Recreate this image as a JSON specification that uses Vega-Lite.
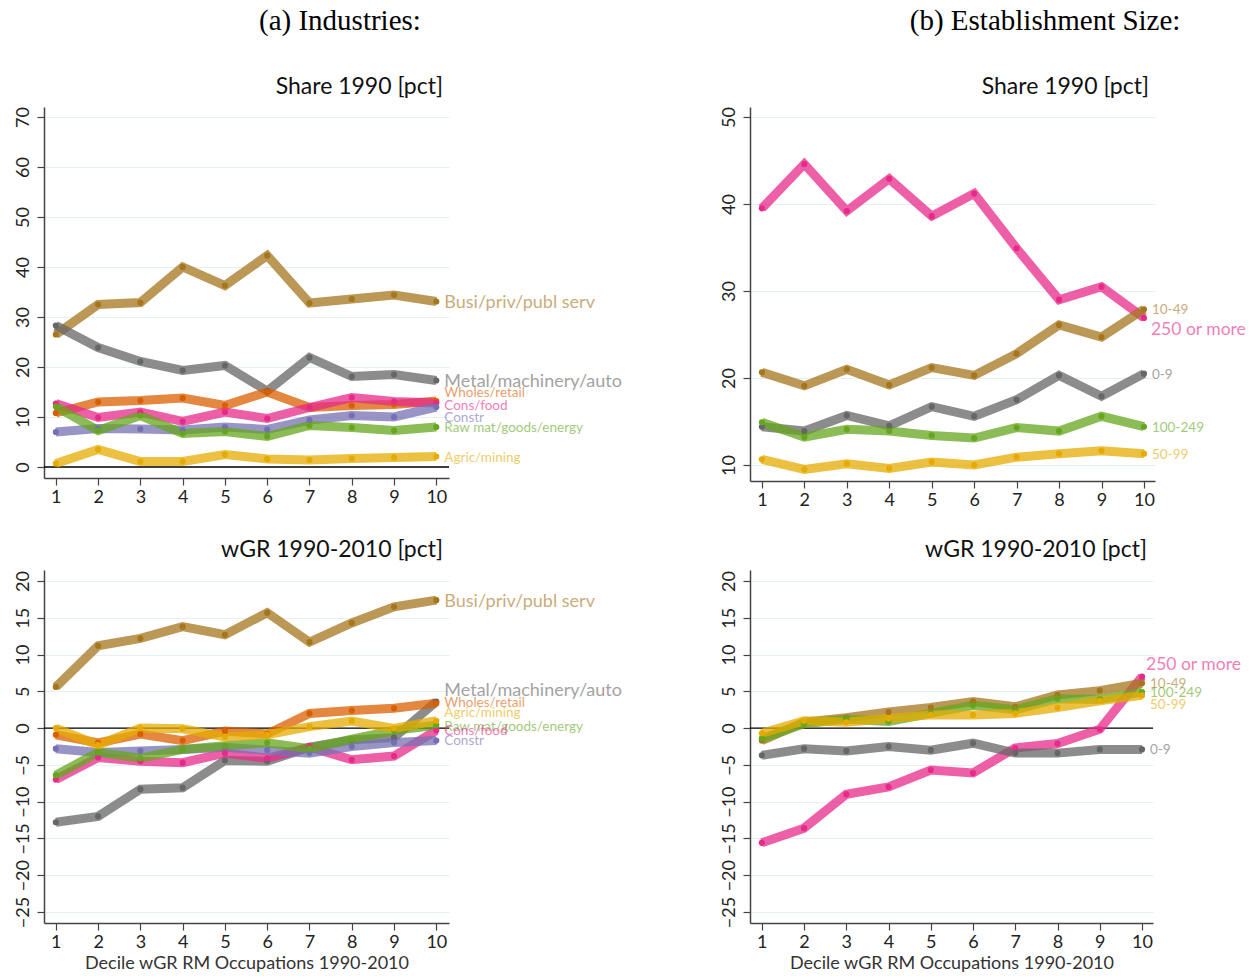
{
"$schema":"https://vega.github.io/schema/vega-lite/v6.json",
"background":"white",
"padding":{"left":14,"top":6,"right":0,"bottom":0},
"datasets":{
"a1":[
{"s":"Busi/priv/publ serv","d":1,"v":26.5},{"s":"Busi/priv/publ serv","d":2,"v":32.5},{"s":"Busi/priv/publ serv","d":3,"v":32.9},{"s":"Busi/priv/publ serv","d":4,"v":40.0},{"s":"Busi/priv/publ serv","d":5,"v":36.3},{"s":"Busi/priv/publ serv","d":6,"v":42.3},{"s":"Busi/priv/publ serv","d":7,"v":32.8},{"s":"Busi/priv/publ serv","d":8,"v":33.6},{"s":"Busi/priv/publ serv","d":9,"v":34.4},{"s":"Busi/priv/publ serv","d":10,"v":33.1},
{"s":"Metal/machinery/auto","d":1,"v":28.3},{"s":"Metal/machinery/auto","d":2,"v":23.9},{"s":"Metal/machinery/auto","d":3,"v":21.1},{"s":"Metal/machinery/auto","d":4,"v":19.3},{"s":"Metal/machinery/auto","d":5,"v":20.3},{"s":"Metal/machinery/auto","d":6,"v":15.2},{"s":"Metal/machinery/auto","d":7,"v":21.9},{"s":"Metal/machinery/auto","d":8,"v":18.1},{"s":"Metal/machinery/auto","d":9,"v":18.5},{"s":"Metal/machinery/auto","d":10,"v":17.3},
{"s":"Wholes/retail","d":1,"v":10.8},{"s":"Wholes/retail","d":2,"v":13.0},{"s":"Wholes/retail","d":3,"v":13.3},{"s":"Wholes/retail","d":4,"v":13.8},{"s":"Wholes/retail","d":5,"v":12.3},{"s":"Wholes/retail","d":6,"v":15.0},{"s":"Wholes/retail","d":7,"v":11.9},{"s":"Wholes/retail","d":8,"v":12.3},{"s":"Wholes/retail","d":9,"v":12.5},{"s":"Wholes/retail","d":10,"v":13.2},
{"s":"Cons/food","d":1,"v":12.7},{"s":"Cons/food","d":2,"v":9.9},{"s":"Cons/food","d":3,"v":11.0},{"s":"Cons/food","d":4,"v":9.1},{"s":"Cons/food","d":5,"v":11.0},{"s":"Cons/food","d":6,"v":9.7},{"s":"Cons/food","d":7,"v":11.9},{"s":"Cons/food","d":8,"v":13.9},{"s":"Cons/food","d":9,"v":13.1},{"s":"Cons/food","d":10,"v":12.8},
{"s":"Constr","d":1,"v":7.0},{"s":"Constr","d":2,"v":7.7},{"s":"Constr","d":3,"v":7.6},{"s":"Constr","d":4,"v":7.4},{"s":"Constr","d":5,"v":8.0},{"s":"Constr","d":6,"v":7.5},{"s":"Constr","d":7,"v":9.4},{"s":"Constr","d":8,"v":10.3},{"s":"Constr","d":9,"v":10.0},{"s":"Constr","d":10,"v":12.0},
{"s":"Raw mat/goods/energy","d":1,"v":12.1},{"s":"Raw mat/goods/energy","d":2,"v":7.3},{"s":"Raw mat/goods/energy","d":3,"v":10.3},{"s":"Raw mat/goods/energy","d":4,"v":6.7},{"s":"Raw mat/goods/energy","d":5,"v":7.1},{"s":"Raw mat/goods/energy","d":6,"v":6.1},{"s":"Raw mat/goods/energy","d":7,"v":8.3},{"s":"Raw mat/goods/energy","d":8,"v":7.9},{"s":"Raw mat/goods/energy","d":9,"v":7.3},{"s":"Raw mat/goods/energy","d":10,"v":8.0},
{"s":"Agric/mining","d":1,"v":0.7},{"s":"Agric/mining","d":2,"v":3.5},{"s":"Agric/mining","d":3,"v":1.1},{"s":"Agric/mining","d":4,"v":1.1},{"s":"Agric/mining","d":5,"v":2.5},{"s":"Agric/mining","d":6,"v":1.6},{"s":"Agric/mining","d":7,"v":1.4},{"s":"Agric/mining","d":8,"v":1.7},{"s":"Agric/mining","d":9,"v":1.9},{"s":"Agric/mining","d":10,"v":2.1}
],
"a2":[
{"s":"Busi/priv/publ serv","d":1,"v":5.6},{"s":"Busi/priv/publ serv","d":2,"v":11.2},{"s":"Busi/priv/publ serv","d":3,"v":12.2},{"s":"Busi/priv/publ serv","d":4,"v":13.8},{"s":"Busi/priv/publ serv","d":5,"v":12.7},{"s":"Busi/priv/publ serv","d":6,"v":15.7},{"s":"Busi/priv/publ serv","d":7,"v":11.7},{"s":"Busi/priv/publ serv","d":8,"v":14.3},{"s":"Busi/priv/publ serv","d":9,"v":16.5},{"s":"Busi/priv/publ serv","d":10,"v":17.4},
{"s":"Metal/machinery/auto","d":1,"v":-12.8},{"s":"Metal/machinery/auto","d":2,"v":-12.0},{"s":"Metal/machinery/auto","d":3,"v":-8.3},{"s":"Metal/machinery/auto","d":4,"v":-8.1},{"s":"Metal/machinery/auto","d":5,"v":-4.4},{"s":"Metal/machinery/auto","d":6,"v":-4.5},{"s":"Metal/machinery/auto","d":7,"v":-2.6},{"s":"Metal/machinery/auto","d":8,"v":-1.6},{"s":"Metal/machinery/auto","d":9,"v":-1.3},{"s":"Metal/machinery/auto","d":10,"v":3.6},
{"s":"Wholes/retail","d":1,"v":-0.9},{"s":"Wholes/retail","d":2,"v":-2.0},{"s":"Wholes/retail","d":3,"v":-0.8},{"s":"Wholes/retail","d":4,"v":-1.7},{"s":"Wholes/retail","d":5,"v":-0.4},{"s":"Wholes/retail","d":6,"v":-0.8},{"s":"Wholes/retail","d":7,"v":2.0},{"s":"Wholes/retail","d":8,"v":2.4},{"s":"Wholes/retail","d":9,"v":2.7},{"s":"Wholes/retail","d":10,"v":3.4},
{"s":"Cons/food","d":1,"v":-7.0},{"s":"Cons/food","d":2,"v":-4.0},{"s":"Cons/food","d":3,"v":-4.5},{"s":"Cons/food","d":4,"v":-4.7},{"s":"Cons/food","d":5,"v":-3.4},{"s":"Cons/food","d":6,"v":-4.1},{"s":"Cons/food","d":7,"v":-2.6},{"s":"Cons/food","d":8,"v":-4.3},{"s":"Cons/food","d":9,"v":-3.8},{"s":"Cons/food","d":10,"v":-0.3},
{"s":"Constr","d":1,"v":-2.8},{"s":"Constr","d":2,"v":-3.3},{"s":"Constr","d":3,"v":-3.1},{"s":"Constr","d":4,"v":-2.9},{"s":"Constr","d":5,"v":-2.6},{"s":"Constr","d":6,"v":-3.0},{"s":"Constr","d":7,"v":-3.4},{"s":"Constr","d":8,"v":-2.5},{"s":"Constr","d":9,"v":-1.95},{"s":"Constr","d":10,"v":-1.7},
{"s":"Raw mat/goods/energy","d":1,"v":-6.4},{"s":"Raw mat/goods/energy","d":2,"v":-3.3},{"s":"Raw mat/goods/energy","d":3,"v":-4.1},{"s":"Raw mat/goods/energy","d":4,"v":-2.9},{"s":"Raw mat/goods/energy","d":5,"v":-2.4},{"s":"Raw mat/goods/energy","d":6,"v":-2.0},{"s":"Raw mat/goods/energy","d":7,"v":-2.8},{"s":"Raw mat/goods/energy","d":8,"v":-1.5},{"s":"Raw mat/goods/energy","d":9,"v":-0.3},{"s":"Raw mat/goods/energy","d":10,"v":0.4},
{"s":"Agric/mining","d":1,"v":0.0},{"s":"Agric/mining","d":2,"v":-2.3},{"s":"Agric/mining","d":3,"v":0.0},{"s":"Agric/mining","d":4,"v":-0.1},{"s":"Agric/mining","d":5,"v":-1.2},{"s":"Agric/mining","d":6,"v":-0.9},{"s":"Agric/mining","d":7,"v":0.2},{"s":"Agric/mining","d":8,"v":0.95},{"s":"Agric/mining","d":9,"v":-0.05},{"s":"Agric/mining","d":10,"v":1.0}
],
"b1":[
{"s":"250 or more","d":1,"v":39.5},{"s":"250 or more","d":2,"v":44.6},{"s":"250 or more","d":3,"v":39.2},{"s":"250 or more","d":4,"v":42.9},{"s":"250 or more","d":5,"v":38.6},{"s":"250 or more","d":6,"v":41.2},{"s":"250 or more","d":7,"v":34.9},{"s":"250 or more","d":8,"v":29.0},{"s":"250 or more","d":9,"v":30.5},{"s":"250 or more","d":10,"v":26.9},
{"s":"10-49","d":1,"v":20.65},{"s":"10-49","d":2,"v":19.1},{"s":"10-49","d":3,"v":21.0},{"s":"10-49","d":4,"v":19.2},{"s":"10-49","d":5,"v":21.2},{"s":"10-49","d":6,"v":20.3},{"s":"10-49","d":7,"v":22.8},{"s":"10-49","d":8,"v":26.1},{"s":"10-49","d":9,"v":24.7},{"s":"10-49","d":10,"v":27.9},
{"s":"0-9","d":1,"v":14.4},{"s":"0-9","d":2,"v":13.9},{"s":"0-9","d":3,"v":15.7},{"s":"0-9","d":4,"v":14.5},{"s":"0-9","d":5,"v":16.7},{"s":"0-9","d":6,"v":15.6},{"s":"0-9","d":7,"v":17.5},{"s":"0-9","d":8,"v":20.3},{"s":"0-9","d":9,"v":17.9},{"s":"0-9","d":10,"v":20.5},
{"s":"100-249","d":1,"v":14.9},{"s":"100-249","d":2,"v":13.2},{"s":"100-249","d":3,"v":14.1},{"s":"100-249","d":4,"v":13.9},{"s":"100-249","d":5,"v":13.4},{"s":"100-249","d":6,"v":13.1},{"s":"100-249","d":7,"v":14.3},{"s":"100-249","d":8,"v":13.9},{"s":"100-249","d":9,"v":15.6},{"s":"100-249","d":10,"v":14.4},
{"s":"50-99","d":1,"v":10.65},{"s":"50-99","d":2,"v":9.5},{"s":"50-99","d":3,"v":10.15},{"s":"50-99","d":4,"v":9.6},{"s":"50-99","d":5,"v":10.35},{"s":"50-99","d":6,"v":10.0},{"s":"50-99","d":7,"v":10.9},{"s":"50-99","d":8,"v":11.3},{"s":"50-99","d":9,"v":11.65},{"s":"50-99","d":10,"v":11.3}
],
"b2":[
{"s":"250 or more","d":1,"v":-15.6},{"s":"250 or more","d":2,"v":-13.6},{"s":"250 or more","d":3,"v":-9.0},{"s":"250 or more","d":4,"v":-8.0},{"s":"250 or more","d":5,"v":-5.7},{"s":"250 or more","d":6,"v":-6.1},{"s":"250 or more","d":7,"v":-2.7},{"s":"250 or more","d":8,"v":-2.1},{"s":"250 or more","d":9,"v":-0.15},{"s":"250 or more","d":10,"v":7.0},
{"s":"10-49","d":1,"v":-1.7},{"s":"10-49","d":2,"v":0.8},{"s":"10-49","d":3,"v":1.4},{"s":"10-49","d":4,"v":2.2},{"s":"10-49","d":5,"v":2.8},{"s":"10-49","d":6,"v":3.6},{"s":"10-49","d":7,"v":2.9},{"s":"10-49","d":8,"v":4.5},{"s":"10-49","d":9,"v":5.1},{"s":"10-49","d":10,"v":6.1},
{"s":"0-9","d":1,"v":-3.7},{"s":"0-9","d":2,"v":-2.8},{"s":"0-9","d":3,"v":-3.1},{"s":"0-9","d":4,"v":-2.5},{"s":"0-9","d":5,"v":-3.0},{"s":"0-9","d":6,"v":-2.05},{"s":"0-9","d":7,"v":-3.4},{"s":"0-9","d":8,"v":-3.4},{"s":"0-9","d":9,"v":-2.9},{"s":"0-9","d":10,"v":-2.9},
{"s":"100-249","d":1,"v":-1.4},{"s":"100-249","d":2,"v":0.6},{"s":"100-249","d":3,"v":1.2},{"s":"100-249","d":4,"v":0.9},{"s":"100-249","d":5,"v":2.0},{"s":"100-249","d":6,"v":3.1},{"s":"100-249","d":7,"v":2.5},{"s":"100-249","d":8,"v":4.0},{"s":"100-249","d":9,"v":3.9},{"s":"100-249","d":10,"v":4.9},
{"s":"50-99","d":1,"v":-0.7},{"s":"50-99","d":2,"v":1.0},{"s":"50-99","d":3,"v":0.8},{"s":"50-99","d":4,"v":1.3},{"s":"50-99","d":5,"v":1.8},{"s":"50-99","d":6,"v":1.8},{"s":"50-99","d":7,"v":2.0},{"s":"50-99","d":8,"v":2.8},{"s":"50-99","d":9,"v":3.7},{"s":"50-99","d":10,"v":4.45}
],
"la1":[{"s":"Busi/priv/publ serv","d":10,"ly":32.8},{"s":"Metal/machinery/auto","d":10,"ly":17.1},{"s":"Wholes/retail","d":10,"ly":14.8},{"s":"Cons/food","d":10,"ly":12.3},{"s":"Constr","d":10,"ly":9.9},{"s":"Raw mat/goods/energy","d":10,"ly":7.9},{"s":"Agric/mining","d":10,"ly":1.9}],
"la2":[{"s":"Busi/priv/publ serv","d":10,"ly":17.2},{"s":"Metal/machinery/auto","d":10,"ly":5.0},{"s":"Wholes/retail","d":10,"ly":3.4},{"s":"Agric/mining","d":10,"ly":2.0},{"s":"Raw mat/goods/energy","d":10,"ly":0.1},{"s":"Cons/food","d":10,"ly":-0.4},{"s":"Constr","d":10,"ly":-1.7}],
"lb1":[{"s":"10-49","d":10,"ly":27.8},{"s":"250 or more","d":10,"ly":25.5},{"s":"0-9","d":10,"ly":20.4},{"s":"100-249","d":10,"ly":14.3},{"s":"50-99","d":10,"ly":11.2}],
"lb2":[{"s":"250 or more","d":10,"ly":8.6},{"s":"10-49","d":10,"ly":6.0},{"s":"100-249","d":10,"ly":4.8},{"s":"50-99","d":10,"ly":3.2},{"s":"0-9","d":10,"ly":-3.0}],
"zero":[{"z":0}]
},
"spacing":98,
"resolve":{"scale":{"color":"independent","strokeWidth":"independent"}},
"hconcat":[
{
"title":{"text":"(a) Industries:","font":"Liberation Serif","fontSize":29,"fontWeight":"normal","color":"#000","anchor":"middle","offset":40,"dx":22},
"spacing":33,
"vconcat":[
{
"width":405,"height":371,
"title":{"text":"Share 1990 [pct]","anchor":"end","frame":"group","font":"Lato","fontSize":23,"fontWeight":"normal","color":"#111","offset":8,"dx":-6},
"layer":[
{"data":{"name":"zero"},"mark":{"type":"rule","color":"#000","strokeWidth":1.3},"encoding":{"y":{"field":"z","type":"quantitative","scale":{"domain":[-2.2,72],"nice":false,"zero":false},"axis":{"values":[0,10,20,30,40,50,60,70],"tickCount":20,"format":"d","title":null,"labelOverlap":false}}}},
{"data":{"name":"a1"},"mark":{"type":"line","opacity":0.75},
"encoding":{
"x":{"field":"d","type":"quantitative","scale":{"domain":[0.72,10.3],"nice":false,"zero":false},"axis":{"values":[1,2,3,4,5,6,7,8,9,10],"tickCount":20,"format":"d","grid":false,"title":null}},
"y":{"field":"v","type":"quantitative","axis":{"values":[0,10,20,30,40,50,60,70],"tickCount":20,"format":"d","title":null,"labelOverlap":false}},
"color":{"field":"s","type":"nominal","legend":null,"scale":{"domain":["Busi/priv/publ serv","Metal/machinery/auto","Wholes/retail","Cons/food","Constr","Raw mat/goods/energy","Agric/mining","250 or more","10-49","0-9","100-249","50-99"],"range":["#a6761d","#666666","#d95f02","#e7298a","#7570b3","#66a61e","#e6ab02","#e7298a","#a6761d","#666666","#66a61e","#e6ab02"]}},
"strokeWidth":{"field":"s","type":"nominal","legend":null,"scale":{"domain":["Busi/priv/publ serv","Metal/machinery/auto","Wholes/retail","Cons/food","Constr","Raw mat/goods/energy","Agric/mining","250 or more","10-49","0-9","100-249","50-99"],"range":[9,9,5,5,5,5,5,10,5,5,5,5]}}
}},
{"data":{"name":"a1"},"mark":{"type":"circle","size":38,"opacity":1},
"encoding":{"x":{"field":"d","type":"quantitative"},"y":{"field":"v","type":"quantitative"},"color":{"field":"s","type":"nominal","legend":null}}},
{"data":{"name":"la1"},"transform":[{"filter":{"field":"s","oneOf":["Busi/priv/publ serv","Metal/machinery/auto"]}}],
"mark":{"type":"text","align":"left","baseline":"middle","dx":8,"font":"Lato","fontSize":18,"opacity":0.6},
"encoding":{"x":{"field":"d","type":"quantitative"},"y":{"field":"ly","type":"quantitative"},"text":{"field":"s"},"color":{"field":"s","type":"nominal","legend":null}}},
{"data":{"name":"la1"},"transform":[{"filter":{"not":{"field":"s","oneOf":["Busi/priv/publ serv","Metal/machinery/auto"]}}}],
"mark":{"type":"text","align":"left","baseline":"middle","dx":8,"font":"Lato","fontSize":13.5,"opacity":0.6},
"encoding":{"x":{"field":"d","type":"quantitative"},"y":{"field":"ly","type":"quantitative"},"text":{"field":"s"},"color":{"field":"s","type":"nominal","legend":null}}}
]
},
{
"width":405,"height":353,
"title":{"text":"wGR 1990-2010 [pct]","anchor":"end","frame":"group","font":"Lato","fontSize":23,"fontWeight":"normal","color":"#111","offset":8,"dx":-6},
"layer":[
{"data":{"name":"zero"},"mark":{"type":"rule","color":"#000","strokeWidth":1.3},"encoding":{"y":{"field":"z","type":"quantitative","scale":{"domain":[-26.5,21.5],"nice":false,"zero":false},"axis":{"values":[-25,-20,-15,-10,-5,0,5,10,15,20],"tickCount":20,"format":"d","title":null,"labelOverlap":false}}}},
{"data":{"name":"a2"},"mark":{"type":"line","opacity":0.75},
"encoding":{
"x":{"field":"d","type":"quantitative","scale":{"domain":[0.72,10.3],"nice":false,"zero":false},"axis":{"values":[1,2,3,4,5,6,7,8,9,10],"tickCount":20,"format":"d","grid":false,"title":"Decile wGR RM Occupations 1990-2010"}},
"y":{"field":"v","type":"quantitative","axis":{"values":[-25,-20,-15,-10,-5,0,5,10,15,20],"tickCount":20,"format":"d","title":null,"labelOverlap":false}},
"color":{"field":"s","type":"nominal","legend":null,"scale":{"domain":["Busi/priv/publ serv","Metal/machinery/auto","Wholes/retail","Cons/food","Constr","Raw mat/goods/energy","Agric/mining","250 or more","10-49","0-9","100-249","50-99"],"range":["#a6761d","#666666","#d95f02","#e7298a","#7570b3","#66a61e","#e6ab02","#e7298a","#a6761d","#666666","#66a61e","#e6ab02"]}},
"strokeWidth":{"field":"s","type":"nominal","legend":null,"scale":{"domain":["Busi/priv/publ serv","Metal/machinery/auto","Wholes/retail","Cons/food","Constr","Raw mat/goods/energy","Agric/mining","250 or more","10-49","0-9","100-249","50-99"],"range":[9,9,5,5,5,5,5,10,5,5,5,5]}}
}},
{"data":{"name":"a2"},"mark":{"type":"circle","size":38,"opacity":1},
"encoding":{"x":{"field":"d","type":"quantitative"},"y":{"field":"v","type":"quantitative"},"color":{"field":"s","type":"nominal","legend":null}}},
{"data":{"name":"la2"},"transform":[{"filter":{"field":"s","oneOf":["Busi/priv/publ serv","Metal/machinery/auto"]}}],
"mark":{"type":"text","align":"left","baseline":"middle","dx":8,"font":"Lato","fontSize":18,"opacity":0.6},
"encoding":{"x":{"field":"d","type":"quantitative"},"y":{"field":"ly","type":"quantitative"},"text":{"field":"s"},"color":{"field":"s","type":"nominal","legend":null}}},
{"data":{"name":"la2"},"transform":[{"filter":{"not":{"field":"s","oneOf":["Busi/priv/publ serv","Metal/machinery/auto"]}}}],
"mark":{"type":"text","align":"left","baseline":"middle","dx":8,"font":"Lato","fontSize":13.5,"opacity":0.6},
"encoding":{"x":{"field":"d","type":"quantitative"},"y":{"field":"ly","type":"quantitative"},"text":{"field":"s"},"color":{"field":"s","type":"nominal","legend":null}}}
]
}
]
},
{
"title":{"text":"(b) Establishment Size:","font":"Liberation Serif","fontSize":29,"fontWeight":"normal","color":"#000","anchor":"middle","offset":40,"dx":62},
"spacing":30,
"vconcat":[
{
"width":405,"height":374,
"title":{"text":"Share 1990 [pct]","anchor":"end","frame":"group","font":"Lato","fontSize":23,"fontWeight":"normal","color":"#111","offset":8,"dx":-6},
"layer":[
{"data":{"name":"b1"},"mark":{"type":"line","opacity":0.75},
"encoding":{
"x":{"field":"d","type":"quantitative","scale":{"domain":[0.72,10.26],"nice":false,"zero":false},"axis":{"values":[1,2,3,4,5,6,7,8,9,10],"tickCount":20,"format":"d","grid":false,"title":null}},
"y":{"field":"v","type":"quantitative","scale":{"domain":[8.16,51.15],"nice":false,"zero":false},"axis":{"values":[10,20,30,40,50],"tickCount":20,"format":"d","title":null,"labelOverlap":false}},
"color":{"field":"s","type":"nominal","legend":null,"scale":{"domain":["Busi/priv/publ serv","Metal/machinery/auto","Wholes/retail","Cons/food","Constr","Raw mat/goods/energy","Agric/mining","250 or more","10-49","0-9","100-249","50-99"],"range":["#a6761d","#666666","#d95f02","#e7298a","#7570b3","#66a61e","#e6ab02","#e7298a","#a6761d","#666666","#66a61e","#e6ab02"]}},
"strokeWidth":{"field":"s","type":"nominal","legend":null,"scale":{"domain":["Busi/priv/publ serv","Metal/machinery/auto","Wholes/retail","Cons/food","Constr","Raw mat/goods/energy","Agric/mining","250 or more","10-49","0-9","100-249","50-99"],"range":[9,9,5,5,5,5,5,10,5,5,5,5]}}
}},
{"data":{"name":"b1"},"mark":{"type":"circle","size":38,"opacity":1},
"encoding":{"x":{"field":"d","type":"quantitative"},"y":{"field":"v","type":"quantitative"},"color":{"field":"s","type":"nominal","legend":null}}},
{"data":{"name":"lb1"},"transform":[{"filter":{"field":"s","equal":"250 or more"}}],
"mark":{"type":"text","align":"left","baseline":"middle","dx":7,"font":"Lato","fontSize":17.5,"opacity":0.6},
"encoding":{"x":{"field":"d","type":"quantitative"},"y":{"field":"ly","type":"quantitative"},"text":{"field":"s"},"color":{"field":"s","type":"nominal","legend":null}}},
{"data":{"name":"lb1"},"transform":[{"filter":{"not":{"field":"s","equal":"250 or more"}}}],
"mark":{"type":"text","align":"left","baseline":"middle","dx":8,"font":"Lato","fontSize":13.5,"opacity":0.6},
"encoding":{"x":{"field":"d","type":"quantitative"},"y":{"field":"ly","type":"quantitative"},"text":{"field":"s"},"color":{"field":"s","type":"nominal","legend":null}}}
]
},
{
"width":403,"height":353,
"title":{"text":"wGR 1990-2010 [pct]","anchor":"end","frame":"group","font":"Lato","fontSize":23,"fontWeight":"normal","color":"#111","offset":8,"dx":-6},
"layer":[
{"data":{"name":"zero"},"mark":{"type":"rule","color":"#000","strokeWidth":1.3},"encoding":{"y":{"field":"z","type":"quantitative","scale":{"domain":[-26.5,21.5],"nice":false,"zero":false},"axis":{"values":[-25,-20,-15,-10,-5,0,5,10,15,20],"tickCount":20,"format":"d","title":null,"labelOverlap":false}}}},
{"data":{"name":"b2"},"mark":{"type":"line","opacity":0.75},
"encoding":{
"x":{"field":"d","type":"quantitative","scale":{"domain":[0.72,10.26],"nice":false,"zero":false},"axis":{"values":[1,2,3,4,5,6,7,8,9,10],"tickCount":20,"format":"d","grid":false,"title":"Decile wGR RM Occupations 1990-2010"}},
"y":{"field":"v","type":"quantitative","axis":{"values":[-25,-20,-15,-10,-5,0,5,10,15,20],"tickCount":20,"format":"d","title":null,"labelOverlap":false}},
"color":{"field":"s","type":"nominal","legend":null,"scale":{"domain":["Busi/priv/publ serv","Metal/machinery/auto","Wholes/retail","Cons/food","Constr","Raw mat/goods/energy","Agric/mining","250 or more","10-49","0-9","100-249","50-99"],"range":["#a6761d","#666666","#d95f02","#e7298a","#7570b3","#66a61e","#e6ab02","#e7298a","#a6761d","#666666","#66a61e","#e6ab02"]}},
"strokeWidth":{"field":"s","type":"nominal","legend":null,"scale":{"domain":["Busi/priv/publ serv","Metal/machinery/auto","Wholes/retail","Cons/food","Constr","Raw mat/goods/energy","Agric/mining","250 or more","10-49","0-9","100-249","50-99"],"range":[9,9,5,5,5,5,5,10,5,5,5,5]}}
}},
{"data":{"name":"b2"},"mark":{"type":"circle","size":38,"opacity":1},
"encoding":{"x":{"field":"d","type":"quantitative"},"y":{"field":"v","type":"quantitative"},"color":{"field":"s","type":"nominal","legend":null}}},
{"data":{"name":"lb2"},"transform":[{"filter":{"field":"s","equal":"250 or more"}}],
"mark":{"type":"text","align":"left","baseline":"middle","dx":4,"font":"Lato","fontSize":17.5,"opacity":0.6},
"encoding":{"x":{"field":"d","type":"quantitative"},"y":{"field":"ly","type":"quantitative"},"text":{"field":"s"},"color":{"field":"s","type":"nominal","legend":null}}},
{"data":{"name":"lb2"},"transform":[{"filter":{"not":{"field":"s","equal":"250 or more"}}}],
"mark":{"type":"text","align":"left","baseline":"middle","dx":8,"font":"Lato","fontSize":13.5,"opacity":0.6},
"encoding":{"x":{"field":"d","type":"quantitative"},"y":{"field":"ly","type":"quantitative"},"text":{"field":"s"},"color":{"field":"s","type":"nominal","legend":null}}}
]
}
]
}
],
"config":{
"view":{"stroke":null},
"axis":{"domainColor":"#444","domainWidth":1.5,"tickColor":"#444","tickSize":7,"tickWidth":1.2,"labelFont":"Lato","labelFontSize":18,"labelColor":"#222","labelOverlap":false,"gridColor":"#e6eff1","gridWidth":1.2,"titleFont":"Lato","titleFontSize":18,"titleFontWeight":"normal","titleColor":"#333","titlePadding":3},
"axisY":{"labelAngle":-90,"labelAlign":"center","labelBaseline":"bottom","labelPadding":5},
"axisX":{"labelPadding":3},
"text":{"font":"Lato"}
}
}
